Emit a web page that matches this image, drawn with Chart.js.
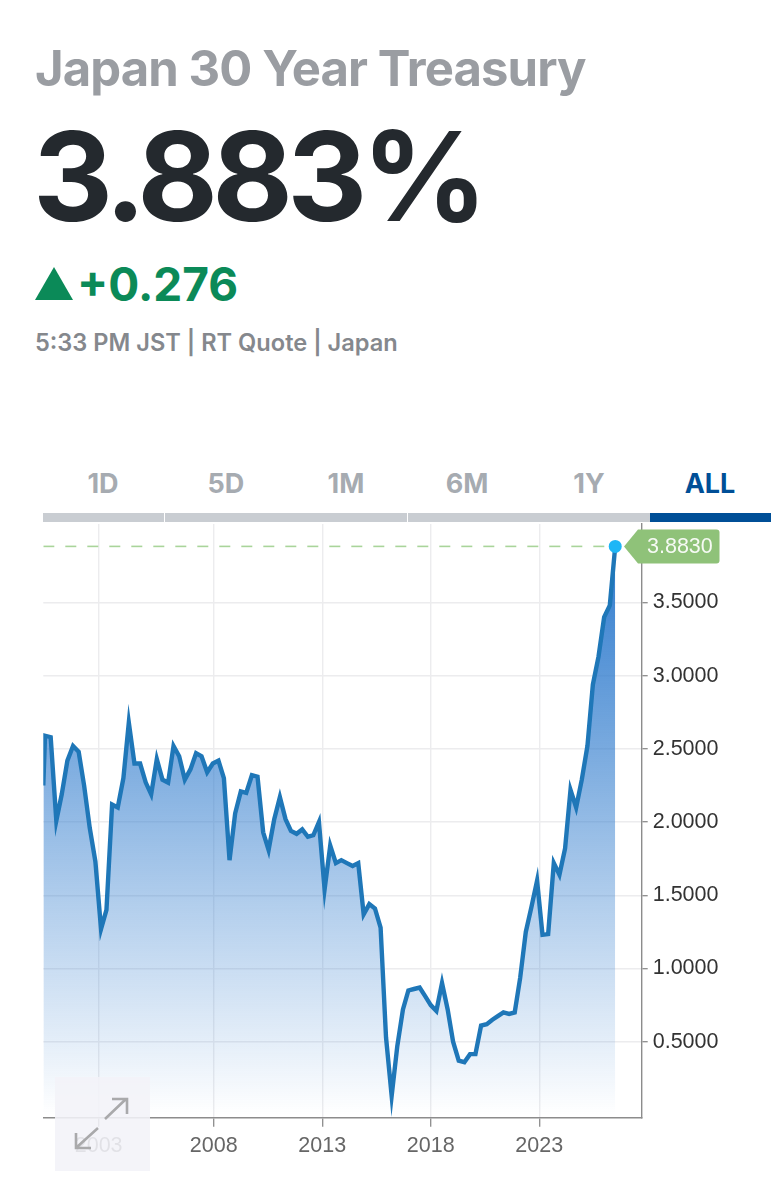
<!DOCTYPE html>
<html>
<head>
<meta charset="utf-8">
<title>Japan 30 Year Treasury</title>
<script src="https://cdn.jsdelivr.net/npm/chart.js@4"></script>
<style>
  html, body { margin: 0; padding: 0; background: #fff; }
  body { position: relative; width: 783px; height: 1200px; overflow: hidden; font-family: Inter, sans-serif; }
  .abs { position: absolute; white-space: nowrap; }
  #title { left: 35px; top: 39px; font-size: 49px; line-height: 60px; font-weight: 700; letter-spacing: -0.9px; color: #9a9da2; }
  #last { left: 33px; top: 106px; font-size: 124px; line-height: 140px; font-weight: 700; letter-spacing: -5.6px; color: #24292e; }
  #change { left: 77px; top: 256px; font-size: 46px; line-height: 56px; font-weight: 700; color: #0b8a58; }
  #triangle { left: 35px; top: 267px; width: 0; height: 0; border-left: 19px solid transparent; border-right: 19px solid transparent; border-bottom: 33px solid #0b8a58; }
  #meta { left: 35px; top: 328px; font-size: 23.6px; line-height: 30px; font-weight: 600; color: #85888d; }
  .tab { top: 468px; width: 120px; margin-left: -60px; text-align: center; font-size: 27px; line-height: 32px; font-weight: 700; color: #a6abb1; }
  .bar { top: 513px; height: 9px; background: #c9cdd2; }
  #chartBox { position: absolute; left: 0; top: 500px; width: 783px; height: 700px; }
  #expand { left: 55px; top: 1077px; width: 95px; height: 94px; background: rgba(243,243,248,.88); }
</style>
</head>
<body>
<div class="abs" id="title">Japan 30 Year Treasury</div>
<div class="abs" id="last">3.883%</div>
<div class="abs" id="triangle"></div>
<div class="abs" id="change">+0.276</div>
<div class="abs" id="meta">5:33 PM JST | RT Quote | Japan</div>

<div class="abs tab" style="left:103px">1D</div>
<div class="abs tab" style="left:226px">5D</div>
<div class="abs tab" style="left:346px">1M</div>
<div class="abs tab" style="left:467px">6M</div>
<div class="abs tab" style="left:589px">1Y</div>
<div class="abs tab" style="left:710px;color:#004f97">ALL</div>
<div class="abs bar" style="left:43px;width:121px"></div>
<div class="abs bar" style="left:165px;width:242px"></div>
<div class="abs bar" style="left:408px;width:242px"></div>
<div class="abs bar" style="left:650px;width:121px;background:#004f97"></div>

<div id="chartBox"><canvas id="chartYield"></canvas></div>

<div class="abs" id="expand">
  <svg width="95" height="94" viewBox="55 1077 95 94" fill="none" stroke="#a9a9ab" stroke-width="2.6">
    <path d="M105 1119 L126 1099 M112 1099 L127 1099 L127 1114"/>
    <path d="M98 1128 L77 1147 M76 1133 L76 1148 L91 1148"/>
  </svg>
</div>

<script>
/* --- Data -------------------------------------------------- */
const YEARS = [
  2000.15, 2000.23, 2000.49, 2000.75, 2001.00, 2001.26, 2001.52, 2001.78, 2002.03, 2002.29, 2002.55, 2002.81,
  2003.06, 2003.32, 2003.58, 2003.84, 2004.09, 2004.35, 2004.61, 2004.87, 2005.12, 2005.38, 2005.64, 2005.90,
  2006.15, 2006.41, 2006.67, 2006.93, 2007.19, 2007.44, 2007.70, 2007.96, 2008.22, 2008.47, 2008.73, 2008.99,
  2009.25, 2009.50, 2009.76, 2010.02, 2010.28, 2010.53, 2010.79, 2011.05, 2011.31, 2011.56, 2011.82, 2012.08,
  2012.34, 2012.59, 2012.85, 2013.11, 2013.37, 2013.63, 2013.88, 2014.14, 2014.40, 2014.66, 2014.91, 2015.17,
  2015.43, 2015.69, 2015.94, 2016.20, 2016.46, 2016.72, 2016.97, 2017.23, 2017.49, 2017.75, 2018.00, 2018.26,
  2018.52, 2018.78, 2019.03, 2019.29, 2019.55, 2019.81, 2020.06, 2020.32, 2020.58, 2020.84, 2021.09, 2021.35,
  2021.61, 2021.87, 2022.12, 2022.38, 2022.64, 2022.90, 2023.15, 2023.41, 2023.67, 2023.93, 2024.19, 2024.44,
  2024.70, 2024.96, 2025.22, 2025.47, 2025.73, 2025.99, 2026.25, 2026.50
];
const YIELDS = [
  2.25, 2.59, 2.58, 2.01, 2.19, 2.42, 2.52, 2.48, 2.25, 1.96, 1.73, 1.27,
  1.40, 2.12, 2.10, 2.30, 2.68, 2.40, 2.40, 2.27, 2.19, 2.43, 2.29, 2.27,
  2.52, 2.45, 2.29, 2.36, 2.47, 2.45, 2.34, 2.40, 2.42, 2.30, 1.74, 2.06,
  2.21, 2.20, 2.32, 2.31, 1.93, 1.81, 2.02, 2.17, 2.02, 1.94, 1.92, 1.95,
  1.90, 1.91, 2.00, 1.54, 1.84, 1.72, 1.74, 1.72, 1.70, 1.72, 1.37, 1.44,
  1.41, 1.28, 0.53, 0.13, 0.47, 0.72, 0.85, 0.86, 0.87, 0.81, 0.75, 0.71,
  0.90, 0.72, 0.50, 0.37, 0.36, 0.415, 0.415, 0.61, 0.62, 0.65, 0.675, 0.70,
  0.69, 0.70, 0.935, 1.25, 1.42, 1.60, 1.23, 1.235, 1.72, 1.64, 1.82, 2.22,
  2.10, 2.29, 2.52, 2.94, 3.13, 3.40, 3.48, 3.883
];
const LAST_VALUE = 3.883;
const Y_TICKS = [0.5, 1, 1.5, 2, 2.5, 3, 3.5];
const X_TICKS = [2002.7, 2008, 2013, 2018, 2023];
const X_TICK_LABELS = ['2003', '2008', '2013', '2018', '2023'];

/* --- Green price tag on the y axis ------------------------- */
const lastTag = {
  id: 'lastTag',
  afterDraw(chart) {
    const c = chart.ctx;
    const y = chart.scales.y.getPixelForValue(LAST_VALUE);
    c.save();
    c.fillStyle = '#8fc279';
    c.beginPath();
    c.moveTo(624, y);
    c.lineTo(638, y - 17);
    c.arcTo(719.5, y - 17, 719.5, y + 17, 3);
    c.arcTo(719.5, y + 17, 638, y + 17, 3);
    c.lineTo(638, y + 17);
    c.closePath();
    c.fill();
    c.fillStyle = 'rgba(255,255,255,.92)';
    c.font = '21.5px "Liberation Sans"';
    c.textAlign = 'left';
    c.textBaseline = 'middle';
    c.fillText(LAST_VALUE.toFixed(4), 647, y + 1);
    c.restore();
  }
};

function areaGradient(ctx) {
  const { chart } = ctx;
  if (!chart.chartArea) return 'transparent';
  const y = chart.scales.y;
  const g = chart.ctx.createLinearGradient(0, y.getPixelForValue(LAST_VALUE), 0, y.getPixelForValue(0));
  g.addColorStop(0, 'rgba(47,123,205,1)');
  g.addColorStop(1, 'rgba(47,123,205,0)');
  return g;
}

/* --- Chart ------------------------------------------------- */
new Chart(document.getElementById('chartYield'), {
  type: 'line',
  data: {
    datasets: [
      {
        label: 'Japan 30 Year Treasury',
        data: YEARS.map((x, i) => ({ x, y: YIELDS[i] })),
        borderColor: '#1f77b8',
        borderWidth: 4.4,
        borderJoinStyle: 'miter',
        tension: 0,
        fill: 'start',
        backgroundColor: areaGradient,
        pointRadius: ctx => ctx.dataIndex === YEARS.length - 1 ? 6.5 : 0,
        pointBackgroundColor: '#1db6f6',
        pointBorderWidth: 0,
      },
      {
        label: 'Last',
        data: [{ x: YEARS[0], y: LAST_VALUE }, { x: YEARS[YEARS.length - 1], y: LAST_VALUE }],
        borderColor: '#a9d49a',
        borderWidth: 1.6,
        borderDash: [11, 11],
        pointRadius: 0,
        fill: false,
      }
    ]
  },
  options: {
    responsive: true,
    maintainAspectRatio: false,
    animation: false,
    layout: { padding: { left: 43.3, top: 24, right: 0, bottom: 0 } },
    plugins: { legend: { display: false }, tooltip: { enabled: false } },
    scales: {
      x: {
        type: 'linear',
        min: 2000.15,
        max: 2027.72,
        afterBuildTicks: s => { s.ticks = X_TICKS.map(value => ({ value })); },
        afterFit: s => { s.height = 82.3; },
        ticks: {
          autoSkip: false,
          maxRotation: 0,
          padding: 6,
          color: '#666',
          font: { family: '"Liberation Sans"', size: 21.5 },
          callback: (v, i) => X_TICK_LABELS[i],
        },
        grid: { color: '#ececee', lineWidth: 1.4, tickLength: 9, tickColor: '#8c8c8c', tickWidth: 1.3 },
        border: { color: '#8c8c8c', width: 1.4 },
      },
      y: {
        position: 'right',
        min: -0.019,
        max: 4.036,
        afterBuildTicks: s => { s.ticks = Y_TICKS.map(value => ({ value })); },
        afterFit: s => { s.width = 141.3; },
        ticks: {
          padding: 5,
          color: '#333',
          font: { family: '"Liberation Sans"', size: 21.5 },
          callback: v => v.toFixed(4),
        },
        grid: { color: '#ececee', lineWidth: 1.4, tickLength: 6, tickColor: '#8c8c8c', tickWidth: 1.3 },
        border: { color: '#8c8c8c', width: 1.4 },
      }
    }
  },
  plugins: [lastTag]
});
</script>
</body>
</html>
